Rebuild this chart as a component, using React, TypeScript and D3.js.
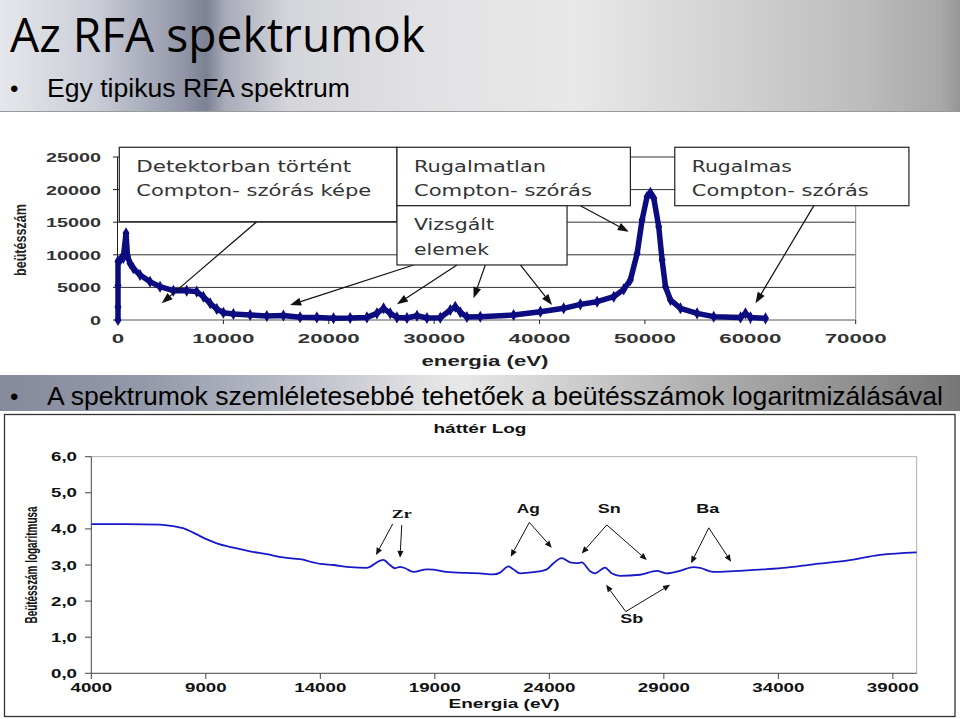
import React from "react";
import * as d3 from "d3";

// ---------- Top chart data (linear counts) ----------
const topEnergy = [0, 0, 0, 0, 250, 500, 760, 900, 1140, 1450, 2090, 3040, 3990, 5250, 6520, 7470, 8100, 8740, 9370, 10000, 10950, 12540, 14120, 15700, 17280, 18870, 20450, 22030, 23620, 24570, 25200, 25830, 26470, 27420, 28370, 29320, 30580, 31530, 32000, 32480, 33110, 34380, 37540, 40080, 42290, 43870, 45460, 47040, 47990, 48620, 49260, 49730, 50200, 50520, 50840, 51310, 51630, 51950, 52420, 53370, 54950, 56530, 59070, 59540, 60020, 61440];
const topCounts = [0, 2000, 5300, 9000, 9300, 9500, 13300, 9800, 8700, 7930, 6900, 5880, 5110, 4500, 4500, 4350, 3580, 2560, 1690, 1120, 920, 770, 610, 700, 410, 400, 260, 300, 400, 1020, 1790, 1020, 400, 300, 660, 300, 350, 1530, 2040, 1200, 450, 510, 770, 1280, 1790, 2400, 2810, 3580, 4700, 6140, 10200, 15340, 18900, 19500, 18670, 14310, 9200, 5110, 3070, 1790, 1020, 510, 400, 1020, 400, 250];
const topYTicks = [0, 5000, 10000, 15000, 20000, 25000];
const topXTicks = [0, 10000, 20000, 30000, 40000, 50000, 60000, 70000];

// annotation boxes (data units: energy, counts)
const topBoxLines = [
  ["Detektorban történt", "Compton- szórás képe"],
  ["Rugalmatlan", "Compton- szórás"],
  ["Vizsgált", "elemek"],
  ["Rugalmas", "Compton- szórás"],
];
const topBoxX0 = [123, 26470, 26470, 52830];
const topBoxX1 = [26470, 48620, 42610, 75050];
const topBoxY0 = [26490, 26490, 17530, 26490];
const topBoxY1 = [15080, 17530, 8440, 17530];
const topBoxTextW = [[215, 235], [132, 178], [80, 75], [100, 177]];
// arrows: from (x,y) to (x,y) in data units
const topArrowFromX = [13172, 28044, 32166, 34854, 38178, 43876, 66031];
const topArrowFromY = [15080, 8437, 8437, 8437, 8437, 17534, 17534];
const topArrowToX = [4150, 16335, 26468, 33743, 41188, 48463, 60495];
const topArrowToY = [2560, 2301, 2408, 3329, 2301, 13546, 2562];

// ---------- Bottom chart data (log counts) ----------
const botEnergy = [4000, 5500, 7000, 7300, 8000, 8750, 9050, 9480, 10200, 10930, 11660, 12380, 13110, 14000, 14580, 15310, 16030, 16170, 16610, 16750, 17040, 17260, 17480, 17700, 18060, 18650, 18950, 19520, 20400, 20970, 21550, 21850, 22210, 22430, 22720, 23300, 23890, 24180, 24540, 24910, 25200, 25410, 25780, 26000, 26430, 26720, 27090, 27960, 28690, 29130, 29710, 30290, 30580, 31160, 32040, 33350, 34370, 35530, 36990, 38440, 40040];
const botLog = [4.13, 4.13, 4.12, 4.1, 4.02, 3.80, 3.71, 3.60, 3.48, 3.38, 3.30, 3.21, 3.16, 3.03, 3.00, 2.94, 2.92, 2.95, 3.12, 3.14, 3.00, 2.91, 2.95, 2.91, 2.81, 2.88, 2.87, 2.81, 2.78, 2.77, 2.74, 2.79, 2.96, 2.88, 2.77, 2.80, 2.88, 3.05, 3.19, 3.07, 3.05, 3.07, 2.83, 2.77, 2.93, 2.77, 2.70, 2.73, 2.84, 2.77, 2.84, 2.94, 2.92, 2.81, 2.83, 2.88, 2.93, 3.02, 3.12, 3.28, 3.35];
const botYTicks = [0, 1, 2, 3, 4, 5, 6];
const botXTicks = [4000, 9000, 14000, 19000, 24000, 29000, 34000, 39000];

const botLabels = ["Zr", "Ag", "Sn", "Ba", "Sb"];
const botLabelX = [17555, 23084, 26621, 30918, 27599];
const botLabelY = [4.31, 4.43, 4.43, 4.43, 1.40];
const botArrowFromX = [17162, 17555, 23127, 23127, 26507, 26507, 30962, 30962, 27337, 27337];
const botArrowFromY = [4.14, 4.11, 4.18, 4.18, 4.11, 4.11, 4.03, 4.03, 1.71, 1.71];
const botArrowToX = [16433, 17481, 22315, 24105, 25416, 28254, 30189, 31935, 26477, 29272];
const botArrowToY = [3.28, 3.20, 3.23, 3.48, 3.32, 3.14, 3.05, 3.09, 2.45, 2.45];

function Arrow({ x1, y1, x2, y2, len, wid, sw }: any) {
  const ang = Math.atan2(y2 - y1, x2 - x1);
  const bx = x2 - len * Math.cos(ang);
  const by = y2 - len * Math.sin(ang);
  const px = -Math.sin(ang) * wid / 2;
  const py = Math.cos(ang) * wid / 2;
  return (
    <g>
      <line x1={x1} y1={y1} x2={bx} y2={by} stroke="#111" strokeWidth={sw} />
      <polygon points={`${x2},${y2} ${bx + px},${by + py} ${bx - px},${by - py}`} fill="#111" />
    </g>
  );
}

export default function App() {
  // top scales
  const tx = d3.scaleLinear().domain([0, 70000]).range([118, 855.7]);
  const ty = d3.scaleLinear().domain([0, 25000]).range([320, 157]);
  const topPts = topEnergy.map((e, i) => [tx(e), ty(topCounts[i])] as [number, number]);
  const topLine = d3.line().curve(d3.curveLinear)(topPts) || "";
  const diamond = d3.symbol().type(d3.symbolDiamond).size(42)() || "";

  // bottom scales
  const bx = d3.scaleLinear().domain([4000, 40040]).range([91.3, 916.7]);
  const by = d3.scaleLinear().domain([0, 6]).range([673.3, 456.7]);
  const botPts = botEnergy.map((e, i) => [bx(e), by(botLog[i])] as [number, number]);
  const botLine = d3.line().curve(d3.curveMonotoneX)(botPts) || "";

  const sans = "'Liberation Sans', Arial, sans-serif";
  const narrow = "'Liberation Sans Narrow', 'Liberation Sans', Arial, sans-serif";

  return (
    <svg width={960} height={719} style={{ position: "absolute", left: 0, top: 0, display: "block" }}>
      <defs>
        <linearGradient id="hdr" x1="0" y1="0" x2="1" y2="0">
          <stop offset="0" stopColor="#e6e7ec" />
          <stop offset="0.1" stopColor="#cacdd6" />
          <stop offset="0.19" stopColor="#9296a8" />
          <stop offset="0.215" stopColor="#7c8194" />
          <stop offset="0.235" stopColor="#a9acb9" />
          <stop offset="0.3" stopColor="#d4d5da" />
          <stop offset="0.45" stopColor="#e2e2e4" />
          <stop offset="0.6" stopColor="#e8e8e8" />
          <stop offset="0.78" stopColor="#cfcfcf" />
          <stop offset="0.9" stopColor="#bcbcbc" />
          <stop offset="0.98" stopColor="#a9a9a9" />
          <stop offset="1" stopColor="#959595" />
        </linearGradient>
        <linearGradient id="mid" x1="0" y1="0" x2="1" y2="0">
          <stop offset="0" stopColor="#858b9b" />
          <stop offset="0.15" stopColor="#9399a8" />
          <stop offset="0.28" stopColor="#b3b7c2" />
          <stop offset="0.42" stopColor="#dcdcdf" />
          <stop offset="0.48" stopColor="#e8e8e8" />
          <stop offset="0.56" stopColor="#d6d6d6" />
          <stop offset="0.75" stopColor="#ababab" />
          <stop offset="0.92" stopColor="#8a8a8a" />
          <stop offset="1" stopColor="#767676" />
        </linearGradient>
      </defs>
      <rect x={0} y={0} width={960} height={719} fill="#ffffff" />

      {/* Header */}
      <rect x={0} y={0} width={960} height={112} fill="url(#hdr)" />
      <line x1={0} y1={111.5} x2={960} y2={111.5} stroke="#9a9a9a" strokeWidth={1} />
      <text x={10} y={52} fontFamily="'Open Sans', sans-serif" fontSize={47} fill="#000" textLength={415} lengthAdjust="spacingAndGlyphs">Az RFA spektrumok</text>
      <text x={10} y={97} fontFamily={sans} fontSize={24} fill="#000">•</text>
      <text x={47} y={97} fontFamily={narrow} fontSize={26} fill="#000" textLength={303} lengthAdjust="spacingAndGlyphs">Egy tipikus RFA spektrum</text>

      {/* Top chart */}
      <g>
        {topYTicks.map((t) => (
          <line key={"g" + t} x1={117} x2={855.7} y1={ty(t)} y2={ty(t)} stroke={t === 0 ? "#555" : "#333"} strokeWidth={1} />
        ))}
        <line x1={855.7} x2={855.7} y1={157} y2={320} stroke="#888" strokeWidth={1} />
        <line x1={117.5} x2={117.5} y1={157} y2={320} stroke="#222" strokeWidth={1} />
        {topYTicks.map((t) => (
          <line key={"yt" + t} x1={113} x2={117.5} y1={ty(t)} y2={ty(t)} stroke="#222" strokeWidth={1} />
        ))}
        {topXTicks.map((t) => (
          <line key={"xt" + t} x1={tx(t)} x2={tx(t)} y1={320} y2={324} stroke="#222" strokeWidth={1} />
        ))}
        {topYTicks.map((t) => (
          <text key={"yl" + t} x={101} y={ty(t) + 5} textAnchor="end" fontFamily={sans} fontWeight="bold" fontSize={13} fill="#333"
            textLength={String(t).length * 11} lengthAdjust="spacingAndGlyphs">{t}</text>
        ))}
        {topXTicks.map((t) => (
          <text key={"xl" + t} x={tx(t)} y={343} textAnchor="middle" fontFamily={sans} fontWeight="bold" fontSize={13} fill="#333"
            textLength={String(t).length * 12.4} lengthAdjust="spacingAndGlyphs">{t}</text>
        ))}
        <text x={485} y={366} textAnchor="middle" fontFamily={sans} fontWeight="bold" fontSize={14} fill="#222" textLength={127} lengthAdjust="spacingAndGlyphs">energia (eV)</text>
        <text transform="translate(26,240) rotate(-90)" textAnchor="middle" fontFamily={narrow} fontWeight="bold" fontSize={16} fill="#222" textLength={72} lengthAdjust="spacingAndGlyphs">beütésszám</text>

        {/* series */}
        <path d={topLine} fill="none" stroke="#0c0c80" strokeWidth={5.5} strokeLinejoin="round" strokeLinecap="round" />
        {topPts.map((p, i) => (
          <path key={"m" + i} d={diamond} transform={`translate(${p[0]},${p[1]})`} fill="#0c0c80" />
        ))}

        {/* arrows */}
        {topArrowFromX.map((_, i) => (
          <Arrow key={"ta" + i} x1={tx(topArrowFromX[i])} y1={ty(topArrowFromY[i])} x2={tx(topArrowToX[i])} y2={ty(topArrowToY[i])} len={11} wid={8} sw={1.2} />
        ))}
        {/* boxes */}
        {topBoxLines.map((lines, i) => {
          const x0 = tx(topBoxX0[i]);
          const x1 = tx(topBoxX1[i]);
          const y0 = ty(topBoxY0[i]);
          const y1 = ty(topBoxY1[i]);
          return (
            <g key={"b" + i}>
              <rect x={x0} y={y0} width={x1 - x0} height={y1 - y0} fill="#fff" stroke="#222" strokeWidth={1.2} />
              {lines.map((ln, j) => (
                <text key={j} x={x0 + 17} y={y0 + 24.5 + j * 24.5} fontFamily="'DejaVu Sans', sans-serif" fontSize={16} fill="#333"
                  textLength={topBoxTextW[i][j]} lengthAdjust="spacingAndGlyphs">{ln}</text>
              ))}
            </g>
          );
        })}
      </g>

      {/* Middle band */}
      <rect x={0} y={375} width={960} height={36} fill="url(#mid)" />
      <text x={10} y={405} fontFamily={sans} fontSize={24} fill="#000">•</text>
      <text x={47} y={405} fontFamily={narrow} fontSize={26} fill="#000" textLength={896} lengthAdjust="spacingAndGlyphs">A spektrumok szemléletesebbé tehetőek a beütésszámok logaritmizálásával</text>

      {/* Bottom chart */}
      <g>
        <rect x={4.5} y={414.5} width={950.5} height={302} fill="#fff" stroke="#333" strokeWidth={1.3} />
        <text x={480} y={432.5} textAnchor="middle" fontFamily={sans} fontWeight="bold" fontSize={13} fill="#111" textLength={93} lengthAdjust="spacingAndGlyphs">háttér Log</text>
        <line x1={91.3} x2={916.7} y1={456.7} y2={456.7} stroke="#aaa" strokeWidth={1} />
        <line x1={916.7} x2={916.7} y1={456.7} y2={673.3} stroke="#aaa" strokeWidth={1} />
        <line x1={91.3} x2={91.3} y1={456.7} y2={673.3} stroke="#444" strokeWidth={1} />
        <line x1={91.3} x2={916.7} y1={673.3} y2={673.3} stroke="#444" strokeWidth={1} />
        {botYTicks.map((t) => (
          <g key={"by" + t}>
            <line x1={85} x2={91.3} y1={by(t)} y2={by(t)} stroke="#444" strokeWidth={1} />
            <text x={77} y={by(t) + 4.5} textAnchor="end" fontFamily={sans} fontWeight="bold" fontSize={12} fill="#111"
              textLength={26} lengthAdjust="spacingAndGlyphs">{d3.format(".1f")(t).replace(".", ",")}</text>
          </g>
        ))}
        {botXTicks.map((t) => (
          <g key={"bx" + t}>
            <line x1={bx(t)} x2={bx(t)} y1={673.3} y2={679} stroke="#444" strokeWidth={1} />
            <text x={bx(t)} y={691.5} textAnchor="middle" fontFamily={sans} fontWeight="bold" fontSize={12} fill="#111"
              textLength={String(t).length * 10.4} lengthAdjust="spacingAndGlyphs">{t}</text>
          </g>
        ))}
        <text x={504} y={708} textAnchor="middle" fontFamily={sans} fontWeight="bold" fontSize={13} fill="#111" textLength={111} lengthAdjust="spacingAndGlyphs">Energia (eV)</text>
        <text transform="translate(37,565) rotate(-90)" textAnchor="middle" fontFamily={narrow} fontWeight="bold" fontSize={16} fill="#111" textLength={117} lengthAdjust="spacingAndGlyphs">Beütésszám logaritmusa</text>

        <path d={botLine} fill="none" stroke="#1818c8" strokeWidth={1.8} strokeLinejoin="round" />

        {botArrowFromX.map((_, i) => (
          <Arrow key={"ba" + i} x1={bx(botArrowFromX[i])} y1={by(botArrowFromY[i])} x2={bx(botArrowToX[i])} y2={by(botArrowToY[i])} len={7} wid={6} sw={1} />
        ))}
        {botLabels.map((l, i) => (
          <text key={l} x={bx(botLabelX[i])} y={by(botLabelY[i])} textAnchor="middle"
            fontFamily={l === "Zr" ? "'Liberation Serif', serif" : sans} fontWeight="bold" fontSize={12} fill="#111"
            textLength={l === "Zr" ? 20 : 23} lengthAdjust="spacingAndGlyphs">{l}</text>
        ))}
      </g>
    </svg>
  );
}
